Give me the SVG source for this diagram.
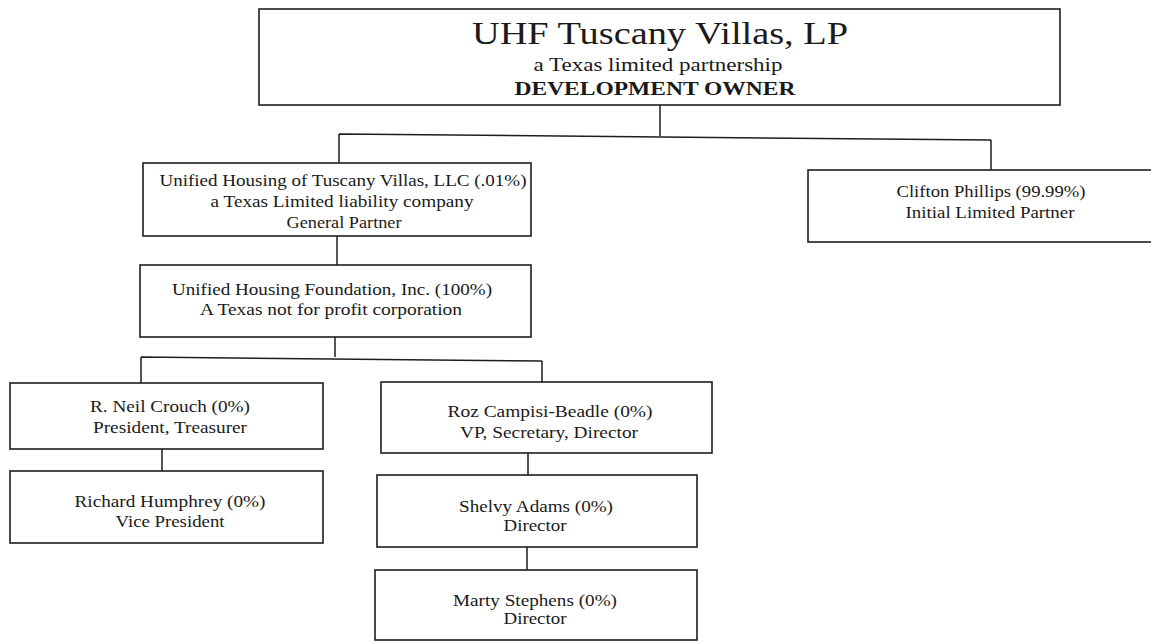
<svg xmlns="http://www.w3.org/2000/svg" width="1151" height="642" viewBox="0 0 1151 642">
<style>
.box{fill:#fff;stroke:#1e1e1e;stroke-width:1.6}
.ln{fill:none;stroke:#1e1e1e;stroke-width:1.5}
text{font-family:"Liberation Serif","Times New Roman",serif;fill:#1a1a1a;text-anchor:middle}
.t{font-size:17px}
</style>
<rect width="1151" height="642" fill="#fff"/>
<g id="connectors">
<path class="ln" d="M660 105V136M339 134L991 140M339 134V163M991 140V170"/>
<path class="ln" d="M337 236V265"/>
<path class="ln" d="M335 337V357M141 357L542 361M141 357V383M542 361V382"/>
<path class="ln" d="M162 449V471"/>
<path class="ln" d="M528 453V475M527 547V570"/>
</g>
<g id="owner">
<rect class="box" x="259" y="9" width="801" height="96"/>
<text x="660" y="44" style="font-size:31px" textLength="376" lengthAdjust="spacingAndGlyphs">UHF Tuscany Villas, LP</text>
<text x="658" y="71" style="font-size:18px" textLength="249" lengthAdjust="spacingAndGlyphs">a Texas limited partnership</text>
<text x="655" y="95" style="font-size:19px;font-weight:bold" textLength="281" lengthAdjust="spacingAndGlyphs">DEVELOPMENT OWNER</text>
</g>
<g id="general-partner">
<rect class="box" x="143" y="163" width="388" height="73"/>
<text class="t" x="343" y="186" textLength="367" lengthAdjust="spacingAndGlyphs">Unified Housing of Tuscany Villas, LLC (.01%)</text>
<text class="t" x="342" y="207" textLength="263" lengthAdjust="spacingAndGlyphs">a Texas Limited liability company</text>
<text class="t" x="344" y="228" textLength="115" lengthAdjust="spacingAndGlyphs">General Partner</text>
</g>
<g id="limited-partner">
<rect class="box" x="808" y="170" width="370" height="72"/>
<text class="t" x="991" y="197" textLength="189" lengthAdjust="spacingAndGlyphs">Clifton Phillips (99.99%)</text>
<text class="t" x="990" y="218" textLength="169" lengthAdjust="spacingAndGlyphs">Initial Limited Partner</text>
</g>
<g id="foundation">
<rect class="box" x="140" y="265" width="391" height="72"/>
<text class="t" x="332" y="295" textLength="320" lengthAdjust="spacingAndGlyphs">Unified Housing Foundation, Inc. (100%)</text>
<text class="t" x="331" y="315" textLength="262" lengthAdjust="spacingAndGlyphs">A Texas not for profit corporation</text>
</g>
<g id="crouch">
<rect class="box" x="10" y="383" width="313" height="66"/>
<text class="t" x="170" y="412" textLength="160" lengthAdjust="spacingAndGlyphs">R. Neil Crouch (0%)</text>
<text class="t" x="170" y="433" textLength="154" lengthAdjust="spacingAndGlyphs">President, Treasurer</text>
</g>
<g id="humphrey">
<rect class="box" x="10" y="471" width="313" height="72"/>
<text class="t" x="170" y="507" textLength="191" lengthAdjust="spacingAndGlyphs">Richard Humphrey (0%)</text>
<text class="t" x="170" y="527" textLength="109" lengthAdjust="spacingAndGlyphs">Vice President</text>
</g>
<g id="campisi-beadle">
<rect class="box" x="381" y="382" width="331" height="71"/>
<text class="t" x="550" y="417" textLength="205" lengthAdjust="spacingAndGlyphs">Roz Campisi-Beadle (0%)</text>
<text class="t" x="549" y="438" textLength="178" lengthAdjust="spacingAndGlyphs">VP, Secretary, Director</text>
</g>
<g id="adams">
<rect class="box" x="377" y="475" width="320" height="72"/>
<text class="t" x="536" y="512" textLength="154" lengthAdjust="spacingAndGlyphs">Shelvy Adams (0%)</text>
<text class="t" x="535" y="531" textLength="63" lengthAdjust="spacingAndGlyphs">Director</text>
</g>
<g id="stephens">
<rect class="box" x="375" y="570" width="322" height="70"/>
<text class="t" x="535" y="606" textLength="164" lengthAdjust="spacingAndGlyphs">Marty Stephens (0%)</text>
<text class="t" x="535" y="624" textLength="63" lengthAdjust="spacingAndGlyphs">Director</text>
</g>
</svg>
